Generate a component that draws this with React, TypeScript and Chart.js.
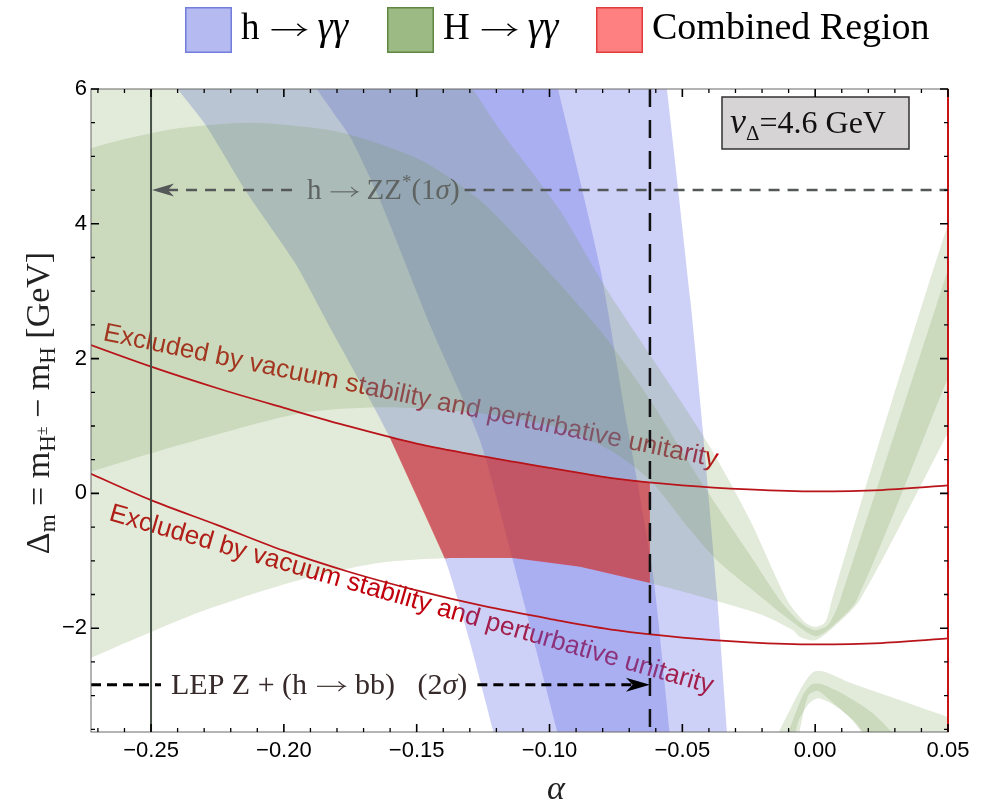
import React, { useEffect, useRef } from 'react';
import { Chart, registerables } from 'chart.js';

Chart.register(...registerables);

const W = 984;
const H = 803;
const SERIF = '"Liberation Serif", "DejaVu Serif", serif';
const SANS = '"Liberation Sans", Arial, sans-serif';

// ---- axes ----
const X_MIN = -0.2726;
const X_MAX = 0.05;
const Y_MIN = -3.54;
const Y_MAX = 6;
const X_MAJOR = 0.05;
const X_MINOR = 0.01;
const Y_MAJOR = 2;
const Y_MINOR = 0.5;

// ---- constraint lines ----
const ZZ_ALPHA = -0.25; // h -> ZZ* (1 sigma) vertical limit
const ZZ_Y = 4.5;
const LEP_ALPHA = -0.0622; // LEP Z + (h -> bb) (2 sigma) vertical limit
const LEP_Y = -2.84;

// ---- vacuum stability / perturbative unitarity curves ----
const vacAlpha = [-0.28, -0.2726, -0.25, -0.225, -0.2, -0.175, -0.15, -0.125, -0.1, -0.075, -0.05, -0.025, 0, 0.025, 0.05, 0.056];
const vacUpper = [2.31, 2.2, 1.88, 1.56, 1.27, 0.99, 0.74, 0.55, 0.38, 0.22, 0.12, 0.06, 0.03, 0.05, 0.12, 0.14];
const vacLower = [0.42, 0.29, -0.1, -0.47, -0.85, -1.17, -1.44, -1.67, -1.86, -2.03, -2.14, -2.21, -2.24, -2.22, -2.15, -2.13];

// ---- h -> gamma gamma band (edges: alpha as a function of Delta_m) ----
const hgg2LeftY = [6.3, 6.0, 5.47, 4.46, 3.4, 2.38, 1.49, 0.82, -0.96, -2.2, -3.51, -3.8];
const hgg2LeftA = [-0.2458, -0.24, -0.2295, -0.2139, -0.1955, -0.1815, -0.169, -0.16, -0.1395, -0.13, -0.1213, -0.1195];
const hgg2RightY = [6.3, 6.0, 2.87, 0.94, -1.48, -3.54, -3.8];
const hgg2RightA = [-0.0568, -0.0558, -0.047, -0.0423, -0.037, -0.0332, -0.0327];
const hgg1LeftY = [6.3, 6.0, 5.29, 4.35, 2.5, 0.79, -0.99, -3.51, -3.8];
const hgg1LeftA = [-0.19, -0.1875, -0.1751, -0.1638, -0.145, -0.1262, -0.1138, -0.0972, -0.0955];
const hgg1RightY = [6.3, 6.0, 3.36, 1.0, -1.18, -3.56, -3.8];
const hgg1RightA = [-0.099, -0.0968, -0.081, -0.0707, -0.0611, -0.0547, -0.0541];

// ---- H -> gamma gamma band, upper branch: [alpha, Delta_m] ----
const HGG2_TOP: [number, number][] = [
  [-0.28, 6.5], [-0.1372, 6.5], [-0.1288, 6.0], [-0.1186, 5.39], [-0.0961, 4.2], [-0.0784, 3.02],
  [-0.0584, 1.83], [-0.0396, 0.69], [-0.0246, -0.39], [-0.0106, -1.58], [-0.0039, -1.91], [0.0, -1.98],
  [0.0038, -1.91], [0.0063, -1.58], [0.0255, 0.94], [0.0496, 3.95], [0.0564, 4.65],
];
const HGG2_BOTTOM: [number, number][] = [
  [0.0564, 1.37], [0.05, 0.9], [0.0168, -1.58], [0.0056, -2.03], [0.0, -2.18], [-0.0057, -2.13],
  [-0.0083, -2.03], [-0.0208, -1.79], [-0.0385, -1.58], [-0.0622, -1.33], [-0.0885, -1.09],
  [-0.1138, -0.96], [-0.1375, -0.96], [-0.1638, -1.03], [-0.1939, -1.28], [-0.2316, -1.76],
  [-0.2726, -2.44], [-0.28, -2.58],
];
const HGG1_TOP: [number, number][] = [
  [-0.28, 5.0], [-0.2726, 5.12], [-0.2617, 5.24], [-0.2391, 5.42], [-0.2116, 5.5], [-0.1789, 5.36],
  [-0.1488, 4.95], [-0.1262, 4.35], [-0.1036, 3.43], [-0.081, 2.42], [-0.0622, 1.39], [-0.0434, 0.2],
  [-0.0246, -0.91], [-0.0133, -1.58], [-0.0057, -1.91], [0.0, -2.03], [0.0049, -1.95], [0.0094, -1.58],
  [0.0496, 3.27], [0.0564, 4.06],
];
const HGG1_BOTTOM: [number, number][] = [
  [0.0564, 2.34], [0.0496, 1.68], [0.0157, -1.58], [0.0056, -2.0], [0.0, -2.12], [-0.0095, -1.88],
  [-0.0246, -1.4], [-0.037, -0.99], [-0.0471, -0.54], [-0.0622, 0.2], [-0.0772, 0.64], [-0.0961, 0.97],
  [-0.1262, 1.19], [-0.1627, 1.28], [-0.1939, 1.19], [-0.2391, 0.72], [-0.2726, 0.32], [-0.28, 0.22],
];
// ---- H -> gamma gamma band, lower branch ----
const HGG2_LOW: [number, number][] = [
  [-0.017, -3.8], [-0.0057, -2.92], [-0.0025, -2.72], [0.0, -2.64], [0.0038, -2.65], [0.0132, -2.81],
  [0.032, -3.07], [0.05, -3.32], [0.0564, -3.41], [0.0564, -3.8], [0.0244, -3.8], [0.015, -3.39],
  [0.0075, -3.15], [0.0011, -3.04], [-0.0026, -3.13], [-0.0064, -3.39], [-0.0087, -3.8],
];
const HGG1_LOW: [number, number][] = [
  [-0.0125, -3.8], [-0.0046, -2.99], [-0.0012, -2.83], [0.0026, -2.83], [0.0112, -2.99], [0.0225, -3.29],
  [0.0338, -3.8], [0.0236, -3.8], [0.0131, -3.33], [0.0056, -3.07], [0.0011, -2.93], [-0.0026, -3.0],
  [-0.0054, -3.44], [-0.0072, -3.8],
];

// ---- labels ----
const LEGEND_LABELS = ['h', 'H', 'Combined Region'];
const VAC_TEXT = 'Excluded by vacuum stability and perturbative unitarity';
const VAC_UPPER_LABEL: [number, number] = [-0.2684, 2.276];
const VAC_LOWER_LABEL: [number, number] = [-0.2662, -0.395];
const VEV_LABEL = '=4.6 GeV';

// ---- colours ----
const BLUE = 'rgba(90,100,230,0.30)';
const GREEN = 'rgba(110,150,70,0.20)';
const RED_FILL = 'rgba(220,25,25,0.58)';
const RED_LINE = 'rgb(185,20,25)';

type Run = { t: string; size: number; italic?: boolean; dy?: number; arrow?: number; pad?: number };
const fontOf = (r: Run) => `${r.italic ? 'italic ' : ''}${r.size}px ${SERIF}`;
function runW(ctx: CanvasRenderingContext2D, r: Run) {
  if (r.arrow) return r.arrow + 2 * (r.pad ?? 0);
  ctx.font = fontOf(r);
  return ctx.measureText(r.t).width;
}
function runsWidth(ctx: CanvasRenderingContext2D, runs: Run[]) {
  return runs.reduce((s, r) => s + runW(ctx, r), 0);
}
function drawRuns(ctx: CanvasRenderingContext2D, runs: Run[], x: number, y: number) {
  for (const r of runs) {
    if (r.arrow) {
      // math arrow: thin shaft with a curved head
      const x0 = x + (r.pad ?? 0), x1 = x0 + r.arrow, ay = y - r.size * 0.25, lw = Math.max(1, r.size / 26);
      const hh = r.size * 0.16, hl = r.size * 0.22;
      ctx.save();
      ctx.strokeStyle = ctx.fillStyle as string;
      ctx.lineWidth = lw;
      ctx.beginPath();
      ctx.moveTo(x0, ay);
      ctx.lineTo(x1 - 1, ay);
      ctx.stroke();
      ctx.beginPath();
      ctx.moveTo(x1 - hl, ay - hh);
      ctx.quadraticCurveTo(x1 - hl * 0.35, ay - hh * 0.15, x1, ay);
      ctx.quadraticCurveTo(x1 - hl * 0.35, ay + hh * 0.15, x1 - hl, ay + hh);
      ctx.stroke();
      ctx.restore();
    } else {
      ctx.font = fontOf(r);
      ctx.fillText(r.t, x, y + (r.dy ?? 0));
    }
    x += runW(ctx, r);
  }
  return x;
}
const arrowRun = (size: number): Run => ({ t: '', size, arrow: Math.round(size * 0.92), pad: Math.round(size * 0.32) });

function interpAsc(xs: number[], ys: number[], v: number) {
  if (v <= xs[0]) return ys[0];
  for (let i = 1; i < xs.length; i++) {
    if (v <= xs[i]) {
      const t = (v - xs[i - 1]) / (xs[i] - xs[i - 1]);
      return ys[i - 1] + t * (ys[i] - ys[i - 1]);
    }
  }
  return ys[ys.length - 1];
}
function interpDesc(xs: number[], ys: number[], v: number) {
  return interpAsc([...xs].reverse(), [...ys].reverse(), v);
}

function buildCombined(): [number, number][] {
  const arch = HGG2_BOTTOM.filter((p) => p[0] < -0.005).sort((a, b) => a[0] - b[0]);
  const archA = arch.map((p) => p[0]);
  const archY = arch.map((p) => p[1]);
  const blueLeft = (v: number) => interpDesc(hgg2LeftY, hgg2LeftA, v);
  let tlA = -0.16;
  for (let i = 0; i < 30; i++) tlA = blueLeft(interpAsc(vacAlpha, vacUpper, tlA));
  const tlY = interpAsc(vacAlpha, vacUpper, tlA);
  let blA = -0.14;
  for (let i = 0; i < 30; i++) blA = blueLeft(interpAsc(archA, archY, blA));
  const blY = interpAsc(archA, archY, blA);
  const pts: [number, number][] = [[tlA, tlY]];
  vacAlpha.forEach((a, i) => { if (a > tlA && a < LEP_ALPHA) pts.push([a, vacUpper[i]]); });
  pts.push([LEP_ALPHA, interpAsc(vacAlpha, vacUpper, LEP_ALPHA)]);
  pts.push([LEP_ALPHA, interpAsc(archA, archY, LEP_ALPHA)]);
  [...arch].reverse().forEach(([a, v]) => { if (a > blA && a < LEP_ALPHA) pts.push([a, v]); });
  pts.push([blA, blY]);
  const left: [number, number][] = [];
  hgg2LeftY.forEach((v, i) => { if (v > blY && v < tlY) left.push([hgg2LeftA[i], v]); });
  left.sort((a, b) => a[1] - b[1]).forEach((p) => pts.push(p));
  return pts;
}

function bandPolygon(leftA: number[], leftY: number[], rightA: number[], rightY: number[]): [number, number][] {
  const pts: [number, number][] = leftA.map((a, i) => [a, leftY[i]]);
  rightA.map((a, i) => [a, rightY[i]] as [number, number]).sort((p, q) => p[1] - q[1]).forEach((p) => pts.push(p));
  return pts;
}

const poly = (pts: [number, number][], color: string, order: number, tension = 0.25) => ({
  type: 'line' as const,
  data: pts.map(([a, v]) => ({ x: a, y: v })),
  backgroundColor: color,
  borderColor: 'rgba(0,0,0,0)',
  borderWidth: 0,
  fill: 'shape' as const,
  pointRadius: 0,
  tension,
  capBezierPoints: false,
  order,
  clip: 0,
});

function arrowHead(ctx: CanvasRenderingContext2D, tipX: number, tipY: number, dir: number, len: number, half: number) {
  ctx.beginPath();
  ctx.moveTo(tipX, tipY);
  ctx.lineTo(tipX - dir * len, tipY - half);
  ctx.lineTo(tipX - dir * len * 0.72, tipY);
  ctx.lineTo(tipX - dir * len, tipY + half);
  ctx.closePath();
  ctx.fill();
}

function hDash(ctx: CanvasRenderingContext2D, x0: number, x1: number, yy: number) {
  ctx.beginPath();
  ctx.moveTo(x0, yy);
  ctx.lineTo(x1, yy);
  ctx.stroke();
}

const annotPlugin = {
  id: 'annot',
  beforeDatasetsDraw(chart: any) {
    const { ctx, chartArea: a, scales } = chart;
    const x = scales.x, y = scales.y;
    ctx.save();
    ctx.beginPath();
    ctx.rect(a.left, a.top, a.right - a.left, a.bottom - a.top);
    ctx.clip();
    ctx.fillStyle = 'rgb(192,0,12)';
    ctx.font = `26px ${SANS}`;
    ctx.textBaseline = 'alphabetic';
    const labels: [[number, number], number][] = [[VAC_UPPER_LABEL, Math.atan(0.207)], [VAC_LOWER_LABEL, Math.atan(0.288)]];
    for (const [[la, lv], ang] of labels) {
      ctx.save();
      ctx.translate(x.getPixelForValue(la), y.getPixelForValue(lv));
      ctx.rotate(ang);
      ctx.fillText(VAC_TEXT, 0, 0);
      ctx.restore();
    }
    ctx.restore();
  },
  afterDatasetsDraw(chart: any) {
    const { ctx, chartArea: a, scales } = chart;
    const x = scales.x, y = scales.y;
    ctx.save();
    ctx.textBaseline = 'alphabetic';
    // h -> ZZ* line
    const yz = y.getPixelForValue(ZZ_Y);
    const xz = x.getPixelForValue(ZZ_ALPHA);
    const zzRuns: Run[] = [
      { t: 'h', size: 29 }, arrowRun(29), { t: 'ZZ', size: 29 }, { t: '*', size: 19, dy: -11 }, { t: '(1', size: 29 },
      { t: 'σ', size: 29, italic: true }, { t: ')', size: 29 },
    ];
    const zzX = xz + 156;
    const zzW = runsWidth(ctx, zzRuns);
    ctx.strokeStyle = 'rgb(85,88,88)';
    ctx.fillStyle = 'rgb(85,88,88)';
    ctx.lineWidth = 2.5;
    ctx.setLineDash([11, 8]);
    hDash(ctx, xz + 16, zzX - 12, yz);
    hDash(ctx, zzX + zzW + 5, a.right, yz);
    ctx.setLineDash([]);
    arrowHead(ctx, xz + 1, yz, -1, 22, 6.5);
    ctx.fillStyle = 'rgb(95,100,98)';
    drawRuns(ctx, zzRuns, zzX, yz + 9);

    // LEP line
    const yl = y.getPixelForValue(LEP_Y);
    const xl = x.getPixelForValue(LEP_ALPHA);
    const lepRuns: Run[] = [
      { t: 'LEP Z + (h', size: 30 }, arrowRun(30), { t: 'bb)   (2', size: 30 }, { t: 'σ', size: 30, italic: true }, { t: ')', size: 30 },
    ];
    const lepX = a.left + 80;
    const lepW = runsWidth(ctx, lepRuns);
    ctx.strokeStyle = '#000';
    ctx.fillStyle = '#000';
    ctx.lineWidth = 3;
    ctx.setLineDash([10, 6]);
    hDash(ctx, a.left, lepX - 10, yl);
    hDash(ctx, lepX + lepW + 10, xl - 16, yl);
    ctx.setLineDash([]);
    arrowHead(ctx, xl, yl, 1, 24, 7);
    ctx.fillStyle = 'rgb(55,42,42)';
    drawRuns(ctx, lepRuns, lepX, yl + 9);

    // v_Delta box
    const bx = a.right - 226, by = a.top + 8, bw = 187, bh = 52;
    ctx.fillStyle = 'rgb(214,212,212)';
    ctx.fillRect(bx, by, bw, bh);
    ctx.strokeStyle = 'rgb(50,50,50)';
    ctx.lineWidth = 1.5;
    ctx.strokeRect(bx, by, bw, bh);
    ctx.fillStyle = '#111';
    drawRuns(ctx, [{ t: 'v', size: 36, italic: true }, { t: 'Δ', size: 21, dy: 7 }, { t: VEV_LABEL, size: 32 }], bx + 8, by + 36);
    ctx.restore();
  },
  afterDraw(chart: any) {
    const { ctx, chartArea: a, scales } = chart;
    const x = scales.x, y = scales.y;
    ctx.save();
    // frame
    ctx.strokeStyle = 'rgb(105,105,105)';
    ctx.lineWidth = 1;
    ctx.strokeRect(a.left, a.top, a.right - a.left, a.bottom - a.top);
    ctx.strokeStyle = 'rgb(200,20,20)';
    ctx.lineWidth = 2;
    ctx.beginPath();
    ctx.moveTo(a.right, a.top);
    ctx.lineTo(a.right, a.bottom);
    ctx.stroke();
    // ticks
    ctx.strokeStyle = '#000';
    for (let k = Math.ceil(X_MIN / X_MINOR - 1e-9); k <= Math.floor(X_MAX / X_MINOR + 1e-9); k++) {
      const v = k * X_MINOR;
      const major = Math.abs(v / X_MAJOR - Math.round(v / X_MAJOR)) < 1e-6;
      const L = major ? 8 : 4;
      const px = x.getPixelForValue(v);
      ctx.lineWidth = major ? 1.6 : 1.3;
      ctx.beginPath();
      ctx.moveTo(px, a.bottom); ctx.lineTo(px, a.bottom - L);
      ctx.moveTo(px, a.top); ctx.lineTo(px, a.top + L);
      ctx.stroke();
    }
    for (let k = Math.ceil(Y_MIN / Y_MINOR - 1e-9); k <= Math.floor(Y_MAX / Y_MINOR + 1e-9); k++) {
      const v = k * Y_MINOR;
      const major = Math.abs(v / Y_MAJOR - Math.round(v / Y_MAJOR)) < 1e-6;
      const L = major ? 8 : 4;
      const py = y.getPixelForValue(v);
      ctx.lineWidth = major ? 1.6 : 1.3;
      ctx.beginPath();
      ctx.moveTo(a.left, py); ctx.lineTo(a.left + L, py);
      ctx.moveTo(a.right, py); ctx.lineTo(a.right - L, py);
      ctx.stroke();
    }
    // legend
    const legend = [
      { fill: 'rgb(181,186,240)', border: 'rgb(115,125,220)', sx: 185, runs: [{ t: LEGEND_LABELS[0], size: 37 }, arrowRun(37), { t: 'γγ', size: 39, italic: true }] as Run[] },
      { fill: 'rgb(156,186,131)', border: 'rgb(95,135,65)', sx: 387, runs: [{ t: LEGEND_LABELS[1], size: 37 }, arrowRun(37), { t: 'γγ', size: 39, italic: true }] as Run[] },
      { fill: 'rgb(255,128,128)', border: 'rgb(225,60,60)', sx: 596, runs: [{ t: LEGEND_LABELS[2], size: 38 }] as Run[] },
    ];
    ctx.textBaseline = 'alphabetic';
    for (const it of legend) {
      ctx.fillStyle = it.fill;
      ctx.fillRect(it.sx, 7, 47, 46);
      ctx.strokeStyle = it.border;
      ctx.lineWidth = 1.5;
      ctx.strokeRect(it.sx + 0.75, 7.75, 45.5, 44.5);
      ctx.fillStyle = '#000';
      drawRuns(ctx, it.runs, it.sx + 56, 39);
    }
    // axis titles
    ctx.fillStyle = '#222';
    drawRuns(ctx, [{ t: 'α', size: 34, italic: true }], 557 - 10, 799);
    const yRuns: Run[] = [
      { t: 'Δ', size: 34 }, { t: 'm', size: 23, dy: 6 }, { t: ' = m', size: 34 }, { t: 'H', size: 23, dy: 6 },
      { t: '±', size: 16, dy: -2 }, { t: ' − m', size: 34 }, { t: 'H', size: 23, dy: 6 }, { t: ' [GeV]', size: 34 },
    ];
    ctx.translate(49, 403);
    ctx.rotate(-Math.PI / 2);
    const yw = runsWidth(ctx, yRuns);
    drawRuns(ctx, yRuns, -yw / 2, 0);
    ctx.restore();
  },
};

const fmtX = (v: number) => {
  const r = Math.round(v * 100) / 100;
  return (r < 0 ? '−' : '') + Math.abs(r).toFixed(2);
};
const fmtY = (v: number) => {
  const r = Math.round(v);
  return (r < 0 ? '−' : '') + Math.abs(r);
};

export default function App() {
  const ref = useRef<HTMLCanvasElement>(null);
  useEffect(() => {
    const datasets: any[] = [
      poly(bandPolygon(hgg2LeftA, hgg2LeftY, hgg2RightA, hgg2RightY), BLUE, 30, 0.2),
      poly(bandPolygon(hgg1LeftA, hgg1LeftY, hgg1RightA, hgg1RightY), BLUE, 29, 0.2),
      poly([...HGG2_TOP, ...HGG2_BOTTOM], GREEN, 28),
      poly([...HGG1_TOP, ...HGG1_BOTTOM], GREEN, 27),
      poly(HGG2_LOW, GREEN, 26),
      poly(HGG1_LOW, GREEN, 25),
      poly(buildCombined(), RED_FILL, 20, 0),
      {
        type: 'line', data: vacAlpha.map((a, i) => ({ x: a, y: vacUpper[i] })), borderColor: RED_LINE, borderWidth: 1.8,
        fill: false, pointRadius: 0, cubicInterpolationMode: 'monotone', order: 10, clip: 0,
      },
      {
        type: 'line', data: vacAlpha.map((a, i) => ({ x: a, y: vacLower[i] })), borderColor: RED_LINE, borderWidth: 1.8,
        fill: false, pointRadius: 0, cubicInterpolationMode: 'monotone', order: 10, clip: 0,
      },
      {
        type: 'line', data: [{ x: ZZ_ALPHA, y: Y_MIN }, { x: ZZ_ALPHA, y: Y_MAX }], borderColor: 'rgb(70,80,70)', borderWidth: 2,
        fill: false, pointRadius: 0, order: 5, clip: 0,
      },
      {
        type: 'line', data: [{ x: LEP_ALPHA, y: Y_MAX }, { x: LEP_ALPHA, y: Y_MIN }], borderColor: '#111', borderWidth: 2.5,
        borderDash: [18, 13], fill: false, pointRadius: 0, order: 5, clip: 0,
      },
    ];
    const chart = new Chart(ref.current as HTMLCanvasElement, {
      type: 'line',
      data: { datasets },
      options: {
        animation: false,
        responsive: true,
        maintainAspectRatio: false,
        events: [],
        layout: { padding: { top: 89, right: 36, left: 0, bottom: 0 } },
        plugins: { legend: { display: false }, tooltip: { enabled: false }, title: { display: false } },
        scales: {
          x: {
            type: 'linear', min: X_MIN, max: X_MAX,
            grid: { display: false, drawTicks: false }, border: { display: false },
            ticks: { stepSize: X_MAJOR, includeBounds: false, callback: (v: any) => fmtX(Number(v)), color: '#000', font: { family: SANS, size: 22 }, padding: 6, maxRotation: 0, autoSkip: false },
            afterFit: (s: any) => { s.height = 71; },
          },
          y: {
            type: 'linear', min: Y_MIN, max: Y_MAX,
            grid: { display: false, drawTicks: false }, border: { display: false },
            ticks: { stepSize: Y_MAJOR, includeBounds: false, callback: (v: any) => fmtY(Number(v)), color: '#000', font: { family: SANS, size: 22 }, padding: 4 },
            afterFit: (s: any) => { s.width = 91; },
          },
        },
      } as any,
      plugins: [annotPlugin],
    } as any);
    return () => chart.destroy();
  }, []);
  return (
    <div style={{ position: 'absolute', left: 0, top: 0, width: W, height: H, background: '#fff' }}>
      <canvas ref={ref} />
    </div>
  );
}
